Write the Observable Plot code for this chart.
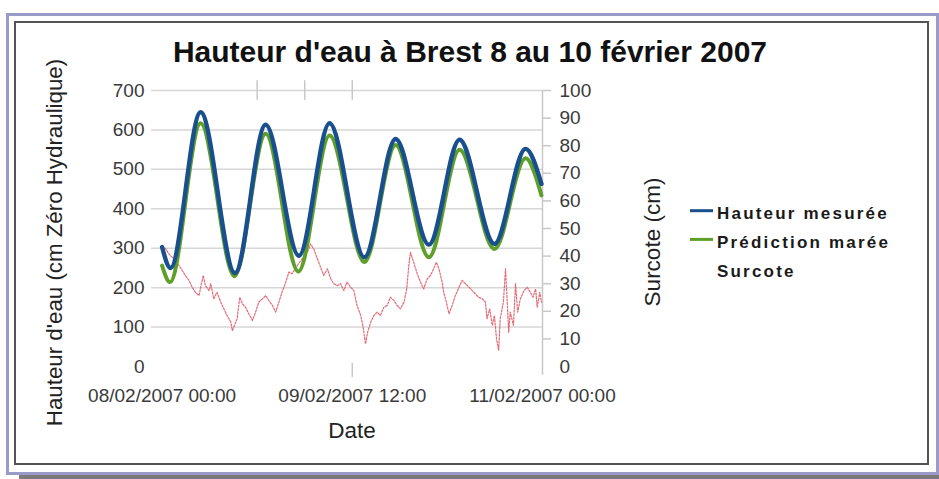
<!DOCTYPE html>
<html><head><meta charset="utf-8">
<script src="https://cdn.jsdelivr.net/npm/d3@7"></script>
<script src="https://cdn.jsdelivr.net/npm/@observablehq/plot@0.6"></script>
<style>
body{margin:0;background:#fff;}
#wrap{position:relative;width:939px;height:479px;overflow:hidden;font-family:"Liberation Sans",Arial,sans-serif;}
.abs{position:absolute;box-sizing:border-box;}
#chart{position:absolute;left:0;top:0;}
</style></head><body>
<div id="wrap">
<div class="abs" style="left:19px;top:475px;width:920px;height:4px;background:#7b7b7b"></div>
<div class="abs" style="left:6px;top:13px;width:933px;height:462px;border:3px solid #9a9acb;background:#fff"></div>
<div class="abs" style="left:14px;top:21px;width:915px;height:444px;border:2px solid #555;background:#fff"></div>
<div id="chart"></div>
</div>
<script>
// ---- Data (hours since 08/02/2007 00:00) ----
const mesureeHeures = [0, 1.6, 7.3, 13.8, 19.6, 25.9, 31.7, 38.3, 44.2, 50.5, 56.3, 62.9, 68.8, 71.8];
const mesureeCm     = [303, 250, 645, 237, 613, 281, 617, 277, 577, 309, 575, 311, 552, 463];
const predictionHeures = [0, 1.5, 7.3, 13.7, 19.6, 25.8, 31.7, 38.3, 44.2, 50.5, 56.3, 62.9, 68.8, 71.8];
const predictionCm     = [256, 214, 617, 229, 590, 241, 586, 265, 562, 277, 550, 298, 528, 434];
const surcoteHeures = [0.0,0.7,1.3,2.2,3.2,3.8,4.4,5.1,5.7,6.3,7.0,7.3,7.8,8.2,8.9,9.2,9.8,10.4,11.1,11.7,12.3,13.0,13.3,13.7,14.2,14.7,15.2,15.8,16.4,17.1,17.7,18.3,19.0,19.6,20.2,20.9,21.5,22.1,22.7,23.4,24.0,24.6,25.6,26.5,27.5,28.1,28.7,29.4,30.0,30.6,31.3,31.9,32.5,33.2,33.8,34.4,35.0,35.7,36.3,36.9,37.6,38.1,38.5,38.9,39.5,40.1,40.7,41.3,42.0,42.6,43.2,43.9,44.5,45.1,45.8,46.3,46.7,47.0,47.6,48.3,48.9,49.5,50.2,50.8,51.4,51.9,52.4,53.0,53.3,53.8,54.3,54.9,55.5,56.2,56.8,57.4,58.1,58.7,59.3,59.9,60.6,61.2,61.5,62.0,62.5,62.9,63.3,63.7,64.0,64.6,65.0,65.3,65.6,65.9,66.5,66.9,67.3,67.8,68.5,69.1,69.7,70.2,70.7,71.0,71.5,71.8];
const surcoteCm = [43.8,42.6,40.8,39.0,36.6,34.8,33.0,31.2,28.7,26.9,25.7,28.7,33.0,29.3,27.5,30.0,24.5,26.9,23.3,20.9,18.5,16.1,13.0,14.9,17.3,25.1,22.7,21.5,19.1,16.7,19.7,23.3,24.5,25.7,23.9,22.1,19.7,23.3,26.9,30.5,34.2,33.6,36.6,39.0,41.4,44.4,42.6,39.0,36.0,33.0,35.4,31.8,30.0,29.3,30.0,27.5,30.6,28.7,27.5,22.1,18.5,13.7,8.2,12.4,16.1,18.5,19.7,18.5,21.5,22.1,25.1,23.9,22.1,20.9,23.3,28.1,36.6,41.4,37.8,33.6,30.6,28.1,31.8,33.0,35.4,37.8,35.4,30.6,26.9,23.3,19.1,22.1,25.7,28.7,31.2,30.0,28.7,27.5,26.3,25.1,24.5,23.3,17.3,20.9,14.9,18.5,10.0,5.8,17.3,23.3,35.4,24.5,12.4,19.7,14.9,30.0,19.7,24.5,27.5,28.7,26.9,25.1,28.1,21.5,26.9,23.3];
const hauteurTicks = [0, 100, 200, 300, 400, 500, 600, 700];
const surcoteTicks = [0, 10, 20, 30, 40, 50, 60, 70, 80, 90, 100];
const dateTicksHeures = [0, 36, 72];
const repereHautHeures = [18, 27, 36];
const repereBasHeures = [36];
const seriesNames = ["Hauteur mesurée", "Prédiction marée", "Surcote"];

// ---- Build ----
const t0 = Date.UTC(2007, 1, 8);
const toDate = h => new Date(t0 + h * 3600e3);
const mesuree = mesureeHeures.map((h, i) => ({date: toDate(h), cm: mesureeCm[i]}));
const prediction = predictionHeures.map((h, i) => ({date: toDate(h), cm: predictionCm[i]}));
const surcote = surcoteHeures.map((h, i) => ({date: toDate(h), cm: surcoteCm[i]}));
const ratio = 7; // 100 cm surcote <-> 700 cm hauteur
const blue = "#1a4f8e", green = "#5e9f2a", red = "#e0505f";
const font = "'Liberation Sans', Arial, sans-serif";

const chart = Plot.plot({
  width: 939, height: 479,
  marginLeft: 151, marginRight: 397, marginTop: 90, marginBottom: 113,
  style: {background: "transparent", fontFamily: font, fontSize: "19px", color: "#3a3a3a", overflow: "visible"},
  x: {type: "utc", domain: [toDate(-2), toDate(72)]},
  y: {domain: [0, 700]},
  marks: [
    Plot.gridY(hauteurTicks.filter(v => v > 0), {stroke: "#d6d6d6", strokeOpacity: 1, strokeWidth: 1.5}),
    Plot.ruleX(repereHautHeures.map(toDate), {y1: 675, y2: 725, stroke: "#c8c8c8", strokeWidth: 1.5}),
    Plot.ruleX(repereBasHeures.map(toDate), {y1: -28, y2: 8, stroke: "#c8c8c8", strokeWidth: 1.5}),
    Plot.ruleX([toDate(72)], {y1: -22, y2: 700, stroke: "#c8c8c8", strokeWidth: 1.5}),
    Plot.axisY(hauteurTicks, {anchor: "left", tickSize: 0, tickPadding: 7, label: null, fontSize: 19, fill: "#3a3a3a"}),
    Plot.axisY(surcoteTicks.filter(v => v > 0).map(v => v * ratio), {anchor: "right", tickSize: 8, tickPadding: 9, tickFormat: d => d / ratio, label: null, fontSize: 19, stroke: "#c8c8c8", strokeWidth: 1.5, fill: "#3a3a3a"}),
    Plot.axisY([0], {anchor: "right", tickSize: 0, tickPadding: 17, tickFormat: d => d / ratio, label: null, fontSize: 19, fill: "#3a3a3a"}),
    Plot.axisX(dateTicksHeures.map(toDate), {tickSize: 0, tickPadding: 22, tickFormat: d3.utcFormat("%d/%m/%Y %H:%M"), label: null, fontSize: 19, fill: "#3a3a3a"}),
    Plot.line(surcote, {x: "date", y: d => d.cm * ratio, stroke: red, strokeWidth: 1.2, strokeDasharray: "2,1.5", strokeOpacity: 0.85}),
    Plot.line(prediction, {x: "date", y: "cm", stroke: green, strokeWidth: 4, curve: "monotone-x"}),
    Plot.line(mesuree, {x: "date", y: "cm", stroke: blue, strokeWidth: 4.4, curve: "monotone-x"})
  ]
});
document.getElementById("chart").appendChild(chart);

// ---- Texts ----
const svg = d3.select(chart);
const g = svg.append("g").attr("font-family", font).attr("text-anchor", "start");
g.append("text").attr("x", 470).attr("y", 62).attr("text-anchor", "middle")
  .attr("font-size", 30).attr("font-weight", "bold").attr("fill", "#111")
  .text("Hauteur d'eau à Brest 8 au 10 février 2007");
g.append("text").attr("transform", "translate(62,242.5) rotate(-90)").attr("text-anchor", "middle")
  .attr("font-size", 22.3).attr("fill", "#222").text("Hauteur d'eau (cm Zéro Hydraulique)");
g.append("text").attr("transform", "translate(660,242) rotate(-90)").attr("text-anchor", "middle")
  .attr("font-size", 22.5).attr("fill", "#222").text("Surcote (cm)");
g.append("text").attr("x", 352).attr("y", 438).attr("text-anchor", "middle")
  .attr("font-size", 22.5).attr("fill", "#222").text("Date");

const legendColors = [blue, green, null];
const legendY = [219.3, 248, 276.5];
seriesNames.forEach((name, i) => {
  if (legendColors[i]) {
    g.append("line").attr("x1", 690).attr("x2", 713).attr("y1", legendY[i] - 8.6).attr("y2", legendY[i] - 8.6)
      .attr("stroke", legendColors[i]).attr("stroke-width", 3);
  }
  g.append("text").attr("x", 717).attr("y", legendY[i]).attr("text-anchor", "start").attr("font-size", 17).attr("font-weight", "bold")
    .attr("letter-spacing", "2.2px").attr("fill", "#1a1a1a").text(name);
});
</script>
</body></html>
